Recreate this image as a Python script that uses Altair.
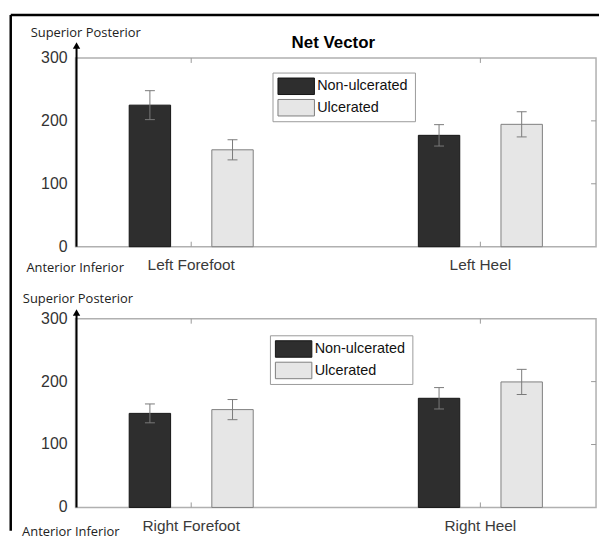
import altair as alt
import pandas as pd

# ---------------- data ----------------
series = ["Non-ulcerated", "Ulcerated"]
cats_left = ["Left Forefoot", "Left Heel"]
cats_right = ["Right Forefoot", "Right Heel"]

left_non = [225, 177]
left_non_err = [23, 17]
left_ulc = [154, 194.5]
left_ulc_err = [16, 20]

right_non = [149.5, 173.5]
right_non_err = [15, 17]
right_ulc = [155.5, 199.5]
right_ulc_err = [16, 20]

y_tick_values = [0, 100, 200, 300]
inner_tick_values = [100, 200]
cat_positions = [1, 2]

fill_colors = ["#2e2e2e", "#e6e6e6"]
edge_colors = ["#151515", "#7f7f7f"]

# ---------------- layout constants ----------------
W = 524
H = 190
GROUP_OFF = 1 / 7
BAR_HALF = 0.0716
LABEL_FONT = "Liberation Sans"
NOTE_FONT = "Open Sans"


def bar_table(cats, non, non_err, ulc, ulc_err):
    rows = []
    for i, c in enumerate(cats):
        for s, vals, errs, off in [
            (series[0], non, non_err, -GROUP_OFF),
            (series[1], ulc, ulc_err, GROUP_OFF),
        ]:
            p = cat_positions[i] + off
            rows.append(dict(category=c, series=s, pos=p, x0=p - BAR_HALF,
                             x1=p + BAR_HALF, value=vals[i],
                             lo=vals[i] - errs[i], hi=vals[i] + errs[i]))
    return pd.DataFrame(rows)


one = pd.DataFrame({"a": [0]})


def panel(df, cats, sp_x, sp_y, ai_x, ai_y, arrow_tip, leg_dx, leg_dy, title=None, border=False):
    xs = alt.Scale(domain=[0.6, 2.4], nice=False, zero=False)
    ys = alt.Scale(domain=[0, 300], nice=False)
    base = alt.Chart(df)

    bars = base.mark_rect(strokeWidth=1).encode(
        x=alt.X("x0:Q", scale=xs, axis=None),
        x2="x1:Q",
        y=alt.Y("value:Q", scale=ys, axis=None),
        y2=alt.datum(0),
        fill=alt.Fill("series:N", scale=alt.Scale(domain=series, range=fill_colors), legend=None),
        stroke=alt.Stroke("series:N", scale=alt.Scale(domain=series, range=edge_colors), legend=None),
    )
    err = base.mark_rule(color="#7a7a7a", strokeWidth=1).encode(
        x=alt.X("pos:Q", scale=xs, axis=None),
        y=alt.Y("lo:Q", scale=ys, axis=None), y2="hi:Q")
    cap_hi = base.mark_tick(orient="horizontal", size=10, thickness=1, color="#7a7a7a", opacity=1).encode(
        x=alt.X("pos:Q", scale=xs, axis=None), y=alt.Y("hi:Q", scale=ys, axis=None))
    cap_lo = base.mark_tick(orient="horizontal", size=10, thickness=1, color="#7a7a7a", opacity=1).encode(
        x=alt.X("pos:Q", scale=xs, axis=None), y=alt.Y("lo:Q", scale=ys, axis=None))

    cat_df = pd.DataFrame({"cat": cats, "pos": cat_positions})
    cat_labels = alt.Chart(cat_df).mark_text(font=LABEL_FONT, fontSize=15.5, color="#3a3a3a",
                                             baseline="middle", align="center").encode(
        x=alt.X("pos:Q", scale=xs, axis=None), y=alt.value(H + 18.5), text="cat:N")
    xt_bottom = alt.Chart(cat_df).mark_rule(color="#999999", strokeWidth=1).encode(
        x=alt.X("pos:Q", scale=xs, axis=None), y=alt.value(H), y2=alt.value(H - 5))
    xt_top = alt.Chart(cat_df).mark_rule(color="#999999", strokeWidth=1).encode(
        x=alt.X("pos:Q", scale=xs, axis=None), y=alt.value(0), y2=alt.value(5))

    yt_df = pd.DataFrame({"v": y_tick_values})
    y_labels = alt.Chart(yt_df).mark_text(font=LABEL_FONT, fontSize=16, color="#333333",
                                          align="right", baseline="middle").encode(
        x=alt.value(-8), y=alt.Y("v:Q", scale=ys, axis=None), text="v:Q")
    it_df = pd.DataFrame({"v": inner_tick_values})
    yt_right = alt.Chart(it_df).mark_rule(color="#999999", strokeWidth=1).encode(
        x=alt.value(W), x2=alt.value(W - 5), y=alt.Y("v:Q", scale=ys, axis=None))

    c1 = alt.Chart(one)
    arrow_line = c1.mark_rule(color="black", strokeWidth=2).encode(
        x=alt.value(1), y=alt.value(H), y2=alt.value(arrow_tip + 5))
    arrow_head = c1.mark_point(shape="triangle-up", filled=True, size=55, color="black", opacity=1).encode(
        x=alt.value(1), y=alt.value(arrow_tip + 4))
    sup = c1.mark_text(font=NOTE_FONT, fontSize=13, color="#222222", align="left",
                       baseline="middle").encode(x=alt.value(sp_x), y=alt.value(sp_y),
                                                 text=alt.value("Superior Posterior"))
    ant = c1.mark_text(font=NOTE_FONT, fontSize=13, color="#222222", align="left",
                       baseline="middle").encode(x=alt.value(ai_x), y=alt.value(ai_y),
                                                 text=alt.value("Anterior Inferior"))

    # legend box
    lx0, ly0 = 198.8 + leg_dx, 15.2 + leg_dy
    leg_box = c1.mark_rect(fill="white", stroke="#9a9a9a", strokeWidth=1).encode(
        x=alt.value(lx0), x2=alt.value(lx0 + 143.4), y=alt.value(ly0), y2=alt.value(ly0 + 49))
    legend_layers = [leg_box]
    for i, s in enumerate(series):
        ry = ly0 + 5 + i * 21.6
        legend_layers.append(c1.mark_rect(fill=fill_colors[i], stroke=edge_colors[i], strokeWidth=1).encode(
            x=alt.value(lx0 + 5), x2=alt.value(lx0 + 41.7), y=alt.value(ry), y2=alt.value(ry + 16.6)))
        legend_layers.append(c1.mark_text(font=LABEL_FONT, fontSize=14.5, color="#111111", align="left",
                                          baseline="middle").encode(
            x=alt.value(lx0 + 44.5), y=alt.value(ry + 8.5), text=alt.value(s)))

    layers = [bars, err, cap_hi, cap_lo, cat_labels, xt_bottom, xt_top, y_labels, yt_right,
              arrow_line, arrow_head, sup, ant] + legend_layers

    if title:
        layers.append(c1.mark_text(font=LABEL_FONT, fontSize=17, fontWeight="bold", color="black",
                                   align="center", baseline="middle").encode(
            x=alt.value(W / 2 - 2.5), y=alt.value(-14.8), text=alt.value(title)))
    if border:
        layers.append(c1.mark_rule(color="black", strokeWidth=2.5).encode(
            x=alt.value(-65.25), x2=alt.value(527), y=alt.value(-43.25)))
        layers.append(c1.mark_rule(color="black", strokeWidth=2.5).encode(
            x=alt.value(-65.25), y=alt.value(-43.25), y2=alt.value(476)))

    return alt.layer(*layers).properties(width=W, height=H)


top = panel(bar_table(cats_left, left_non, left_non_err, left_ulc, left_ulc_err), cats_left,
            sp_x=-45.2, sp_y=-24.8, ai_x=-49.5, ai_y=H + 21.8, arrow_tip=-16.5,
            leg_dx=0, leg_dy=0, title="Net Vector", border=True)
bottom = panel(bar_table(cats_right, right_non, right_non_err, right_ulc, right_ulc_err), cats_right,
               sp_x=-53.1, sp_y=-20.2, ai_x=-53.8, ai_y=H + 24.5, arrow_tip=-10.2,
               leg_dx=-2.6, leg_dy=2)

chart = alt.vconcat(top, bottom, spacing=72.5, bounds="flush").properties(
    padding={"left": 0, "top": 2.5, "right": 0, "bottom": 0}
).configure_view(stroke="#b0b0b0", strokeWidth=1.5)

chart.save("out.html", embed_options={"renderer": "svg", "actions": False})
